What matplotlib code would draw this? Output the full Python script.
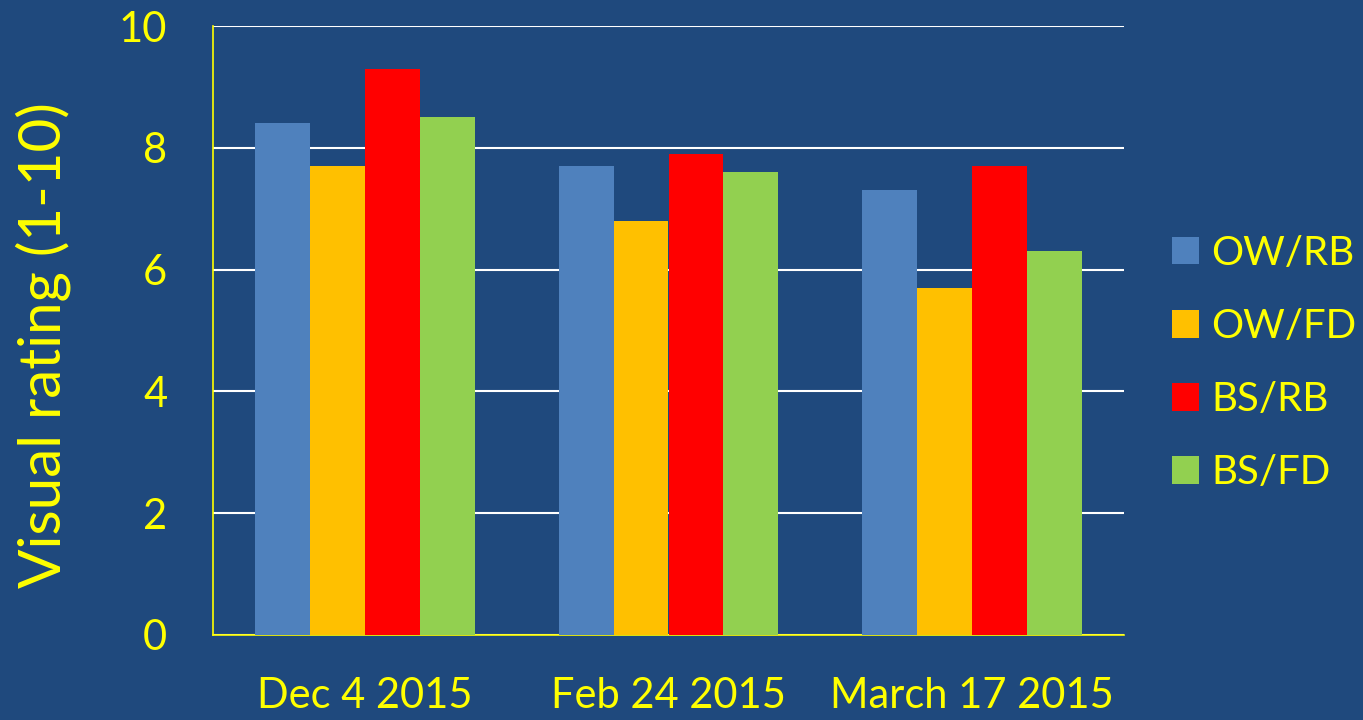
import matplotlib
matplotlib.use("Agg")
import matplotlib.pyplot as plt
import numpy as np

categories = ["Dec 4 2015", "Feb 24 2015", "March 17 2015"]
series_names = ["OW/RB", "OW/FD", "BS/RB", "BS/FD"]
ow_rb = [8.4, 7.7, 7.3]
ow_fd = [7.7, 6.8, 5.7]
bs_rb = [9.3, 7.9, 7.7]
bs_fd = [8.5, 7.6, 6.3]
y_ticks = [0, 2, 4, 6, 8, 10]

colors = ["#4F81BD", "#FFC000", "#FF0000", "#92D050"]
bg = "#1F497D"
yellow = "#FFFF00"

plt.rcParams['font.family'] = ['Lato', 'DejaVu Sans']

fig = plt.figure(figsize=(13.63, 7.2), dpi=100, facecolor=bg)
ax = fig.add_axes([213/1363, 1-635/720, (1124-213)/1363, (635-26)/720])
ax.set_facecolor(bg)

x = np.arange(len(categories))
w = 0.181
data = [ow_rb, ow_fd, bs_rb, bs_fd]
for i, (vals, name, c) in enumerate(zip(data, series_names, colors)):
    ax.bar(x + (i - 1.5) * w, vals, width=w, color=c, label=name, zorder=3)

ax.set_xlim(-0.5, 2.5)
ax.set_ylim(0, 10)
ax.set_yticks(y_ticks)
ax.set_yticklabels([str(t) for t in y_ticks])
ax.set_xticks(x)
ax.set_xticklabels(categories)
ax.yaxis.grid(True, color="white", linewidth=1.5, zorder=0)
ax.set_axisbelow(True)
for s in ["top", "right"]:
    ax.spines[s].set_visible(False)
for s in ["left", "bottom"]:
    ax.spines[s].set_color(yellow)
    ax.spines[s].set_linewidth(1.2)
ax.spines["left"].set_zorder(4)
ax.tick_params(axis='both', length=0, colors=yellow, labelsize=30)
ax.tick_params(axis='y', pad=33)
ax.tick_params(axis='x', pad=30)
ax.set_ylabel("Visual rating (1-10)", color=yellow, fontsize=42)
ax.yaxis.set_label_coords((71 - 213) / 911, (635 - 345) / 609)

leg = fig.legend(loc="center left", bbox_to_anchor=(1172/1363, 1-363/720),
                 frameon=False, fontsize=29, handlelength=0.68, handleheight=0.68,
                 handletextpad=0.3, labelspacing=0.9, labelcolor=yellow,
                 borderpad=0, borderaxespad=0)

fig.savefig("out.png", dpi=100, facecolor=bg)
